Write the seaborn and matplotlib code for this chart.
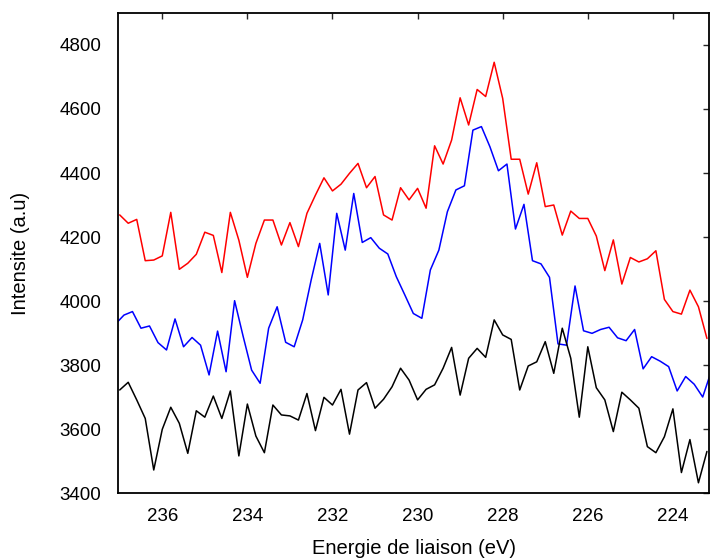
import numpy as np
import pandas as pd
import seaborn as sns
from matplotlib import pyplot as plt

# binding energy grids (eV)
energy = np.round(np.arange(237.0, 223.1, -0.2), 1)
energy_blue = np.round(np.arange(237.1, 223.0, -0.2), 1)

red_counts = [4269, 4243, 4255, 4126, 4128, 4141, 4277, 4099, 4118, 4146,
              4215, 4205, 4089, 4277, 4190, 4074, 4180, 4253, 4253, 4175,
              4245, 4170, 4274, 4331, 4385, 4344, 4365, 4399, 4430, 4354,
              4389, 4269, 4253, 4354, 4316, 4352, 4290, 4485, 4428, 4503,
              4635, 4550, 4661, 4639, 4746, 4633, 4443, 4443, 4334, 4432,
              4295, 4300, 4206, 4281, 4258, 4258, 4203, 4095, 4191, 4053,
              4136, 4122, 4132, 4157, 4005, 3967, 3959, 4034, 3982, 3883]

blue_counts = [3928, 3956, 3967, 3915, 3922, 3870, 3847, 3944, 3857, 3886,
               3862, 3769, 3906, 3779, 4001, 3890, 3784, 3743, 3915, 3982,
               3871, 3857, 3941, 4066, 4180, 4019, 4274, 4159, 4336, 4183,
               4198, 4165, 4147, 4076, 4019, 3961, 3946, 4097, 4159, 4279,
               4347, 4360, 4534, 4545, 4482, 4407, 4428, 4225, 4302, 4126,
               4116, 4074, 3866, 3862, 4047, 3907, 3899, 3911, 3918, 3885,
               3876, 3911, 3788, 3826, 3812, 3795, 3719, 3764, 3740, 3700,
               3780]

black_counts = [3722, 3746, 3691, 3633, 3472, 3599, 3668, 3618, 3524, 3657,
                3637, 3703, 3633, 3719, 3516, 3678, 3578, 3526, 3675, 3644,
                3641, 3628, 3711, 3595, 3699, 3675, 3724, 3584, 3722, 3745,
                3665, 3693, 3732, 3790, 3753, 3691, 3724, 3738, 3790, 3855,
                3706, 3821, 3852, 3824, 3941, 3894, 3880, 3722, 3797, 3810,
                3873, 3774, 3915, 3821, 3637, 3857, 3729, 3691, 3592, 3715,
                3691, 3665, 3545, 3526, 3576, 3663, 3464, 3567, 3432, 3530]

xticks = [236, 234, 232, 230, 228, 226, 224]
yticks = [3400, 3600, 3800, 4000, 4200, 4400, 4600, 4800]

sns.set_style("white")
plt.rcParams['font.family'] = ['Liberation Sans', 'DejaVu Sans']

df_red = pd.DataFrame({'E': energy, 'I': red_counts})
df_blue = pd.DataFrame({'E': energy_blue, 'I': blue_counts})
df_black = pd.DataFrame({'E': energy, 'I': black_counts})

fig = plt.figure(figsize=(7.1, 5.6), dpi=100)
ax = fig.add_axes([0.1662, 0.1196, 0.8325, 0.8572])

sns.lineplot(data=df_red, x='E', y='I', color='#ff0000', lw=1.1, ax=ax)
sns.lineplot(data=df_blue, x='E', y='I', color='#0000ff', lw=1.1, ax=ax)
sns.lineplot(data=df_black, x='E', y='I', color='black', lw=1.1, ax=ax)

ax.set_xlim(237.04, 223.15)
ax.set_ylim(3400, 4900)
ax.set_xticks(xticks)
ax.set_yticks(yticks)
ax.tick_params(direction='in', length=4, width=1, top=True, right=True,
               labelsize=13.5, labelcolor='black')
ax.tick_params(axis='y', pad=12)
ax.tick_params(axis='x', pad=11)
for s in ax.spines.values():
    s.set_linewidth(1.3)
    s.set_color('black')

ax.set_xlabel('Energie de liaison (eV)', fontsize=14.5, labelpad=10, color='black')
ax.set_ylabel('Intensite (a.u)', fontsize=14.5, labelpad=21, color='black')

fig.savefig('out.png', dpi=100)
